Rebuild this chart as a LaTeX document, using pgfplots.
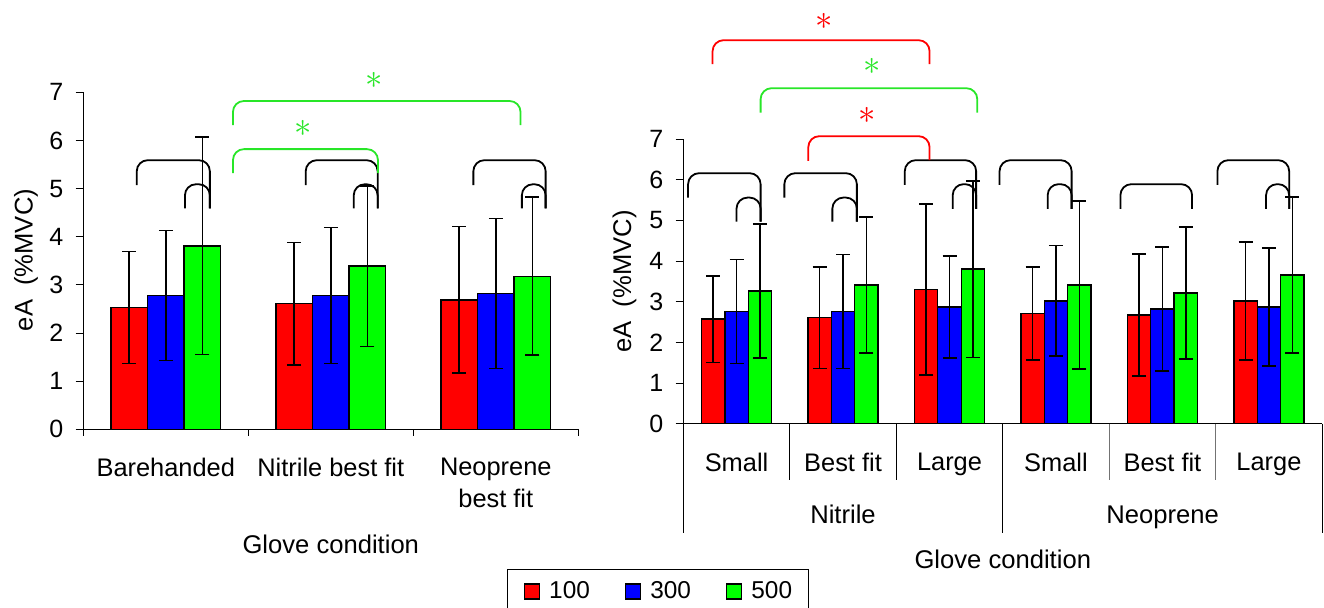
\documentclass[border=0pt]{standalone}
\usepackage{fontspec}
\setmainfont{Liberation Sans}
\usepackage{pgfplots}
\pgfplotsset{compat=1.18}
\usepackage{pgfplotstable}

\definecolor{xlred}{RGB}{255,0,0}
\definecolor{xlblue}{RGB}{0,0,255}
\definecolor{xlgreen}{RGB}{0,255,0}
\definecolor{brgreen}{RGB}{40,230,40}

\pgfplotstableread{
x a ea b eb c ec
0 2.53 1.16 2.78 1.35 3.81 2.26
1 2.61 1.27 2.78 1.41 3.39 1.67
2 2.69 1.52 2.82 1.56 3.18 1.64
}\leftdata

\pgfplotstableread{
x a ea b eb c ec
0 2.57 1.06 2.76 1.28 3.26 1.65
1 2.61 1.25 2.76 1.40 3.41 1.67
2 3.30 2.10 2.87 1.26 3.80 2.17
3 2.71 1.15 3.02 1.36 3.41 2.07
4 2.67 1.50 2.82 1.53 3.21 1.62
5 3.02 1.45 2.87 1.45 3.66 1.92
}\rightdata

\newcommand{\brk}[6][black]{\draw[#1, line width=0.9pt, rounded corners=5.5pt] (axis cs:#2,#5) -- (axis cs:#2,#4) -- (axis cs:#3,#4) -- (axis cs:#3,#6);}
\newcommand{\sigstar}[4]{\node[text=#1, inner sep=0pt] at (axis cs:#2,#3) {\fontsize{#4}{#4}\selectfont$\ast$};}
\newcommand{\sep}[3][black]{\draw[line width=0.5pt, #1] (axis cs:#2,0) -- ([yshift=-#3]axis cs:#2,0);}

\pgfplotsset{
  base/.style={
    scale only axis, clip=false,
    ymin=0, ymax=7, ytick={0,...,7},
    axis lines*=left,
    axis line style={line width=0.5pt, black},
    tick align=outside, major tick length=3.85pt,
    xtick style={draw=none},
    ytick style={line width=0.5pt, black},
    /pgf/number format/assume math mode=true,
    yticklabel style={font=\fontsize{12.5}{15}\selectfont},
    xticklabel style={font=\fontsize{12.7}{16}\selectfont, align=center, anchor=north, inner sep=0pt, yshift=-10.5pt},
    yticklabel style={anchor=east, inner sep=0pt, xshift=-6pt},
    ybar,
    error bars/y dir=both, error bars/y explicit,
    error bars/error bar style={line width=0.8pt, black},
    error bars/error mark options={rotate=90, mark size=3.5pt, line width=0.8pt, black},
  },
  mybar/.style={draw=black, line width=0.7pt, fill=#1,
    legend image code/.code={\draw[fill=#1, draw=black, line width=0.7pt] (0pt,-3.75pt) rectangle (7.5pt,3.75pt);}},
}

\begin{document}
\begin{tikzpicture}
\path[use as bounding box] (0,0) rectangle (662pt,-303.5pt);

% ---------------- left panel ----------------
\begin{axis}[base,
  at={(41.65pt,-214.65pt)}, anchor=south west,
  width=247.5pt, height=168.5pt,
  xmin=-0.5, xmax=2.5, bar width=0.222,
  xtick={0,1,2},
  xticklabels={Barehanded, Nitrile best fit, {Neoprene\\best fit}},
]
\addplot[mybar=xlred, bar shift=-0.222] table[x=x, y=a, y error=ea] {\leftdata};
\addplot[mybar=xlblue, bar shift=0] table[x=x, y=b, y error=eb] {\leftdata};
\addplot[mybar=xlgreen, bar shift=0.222] table[x=x, y=c, y error=ec] {\leftdata};

\sep{-0.5}{3.5pt}
\sep{0.5}{3.5pt}
\sep{1.5}{3.5pt}
\sep{2.5}{3.5pt}

% black brackets
\brk{-0.176}{0.267}{5.59}{5.07}{4.59}
\brk{0.116}{0.267}{5.09}{4.59}{4.59}
\brk{0.848}{1.284}{5.59}{5.07}{4.59}
\brk{1.139}{1.284}{5.09}{4.59}{4.59}
\brk{1.864}{2.302}{5.59}{5.07}{4.59}
\brk{2.158}{2.302}{5.09}{4.59}{4.59}
% green brackets
\brk[brgreen]{0.407}{1.286}{5.82}{5.32}{5.32}
\brk[brgreen]{0.407}{2.150}{6.82}{6.32}{6.32}
\sigstar{brgreen}{0.83}{6.25}{16}
\sigstar{brgreen}{1.26}{7.24}{16}
\end{axis}

% ---------------- right panel ----------------
\begin{axis}[base,
  at={(341.65pt,-211.85pt)}, anchor=south west,
  width=319.45pt, height=142.35pt,
  xmin=-0.5, xmax=5.5, bar width=0.22,
  xtick={0,...,5},
  xticklabels={Small, Best fit, Large, Small, Best fit, Large},
  legend style={at={(-0.2755,-0.5104)}, anchor=north west, legend columns=3,
    draw=black, line width=0.5pt, inner xsep=8pt, inner ysep=4pt,
    font=\fontsize{12.2}{14}\selectfont,
    nodes={inner xsep=0pt, inner ysep=2pt},
    /tikz/every odd column/.append style={column sep=4.5pt},
    /tikz/every even column/.append style={column sep=17.5pt}},
]
\addplot[mybar=xlred, bar shift=-0.22] table[x=x, y=a, y error=ea] {\rightdata};
\addplot[mybar=xlblue, bar shift=0] table[x=x, y=b, y error=eb] {\rightdata};
\addplot[mybar=xlgreen, bar shift=0.22] table[x=x, y=c, y error=ec] {\rightdata};
\legend{100,300,500}

\sep{-0.5}{54.65pt}
\sep{0.5}{28.15pt}
\sep{1.5}{28.15pt}
\sep{2.5}{54.65pt}
\sep[black!55]{3.5}{28.15pt}
\sep[black!55]{4.5}{28.15pt}
\sep{5.5}{54.65pt}

% black brackets
\brk{-0.455}{0.226}{6.16}{5.56}{4.97}
\brk{0.0}{0.226}{5.56}{4.97}{4.97}
\brk{0.449}{1.13}{6.16}{5.56}{4.97}
\brk{0.90}{1.13}{5.56}{4.97}{4.97}
\brk{1.58}{2.25}{6.48}{5.87}{5.28}
\brk{2.03}{2.25}{5.89}{5.28}{5.28}
\brk{2.47}{3.147}{6.48}{5.87}{5.28}
\brk{2.922}{3.147}{5.89}{5.28}{5.28}
\brk{3.605}{4.278}{5.89}{5.28}{5.28}
\brk{4.516}{5.19}{6.48}{5.87}{5.28}
\brk{4.973}{5.19}{5.89}{5.28}{5.28}
% coloured brackets
\brk[xlred]{0.674}{1.813}{7.07}{6.46}{6.48}
\brk[brgreen]{0.226}{2.261}{8.25}{7.65}{7.65}
\brk[xlred]{-0.225}{1.813}{9.43}{8.84}{8.84}
\sigstar{xlred}{1.222}{7.59}{16}
\sigstar{brgreen}{1.274}{8.78}{16}
\sigstar{xlred}{0.822}{9.90}{16}
\end{axis}

% ---------------- text ----------------
\begin{scope}[every node/.style={font=\fontsize{12.8}{15}\selectfont, inner sep=0pt}]
\node[rotate=90] at (13pt,-130pt) {eA\ \ (\%MVC)};
\node[rotate=90] at (312.25pt,-140.75pt) {eA\ \ (\%MVC)};
\node[anchor=base] at (165.4pt,-276.5pt) {Glove condition};
\node[anchor=base] at (501.4pt,-284.15pt) {Glove condition};
\node[anchor=base] at (421.5pt,-261.65pt) {Nitrile};
\node[anchor=base] at (581.3pt,-261.65pt) {Neoprene};
\end{scope}
\end{tikzpicture}
\end{document}
